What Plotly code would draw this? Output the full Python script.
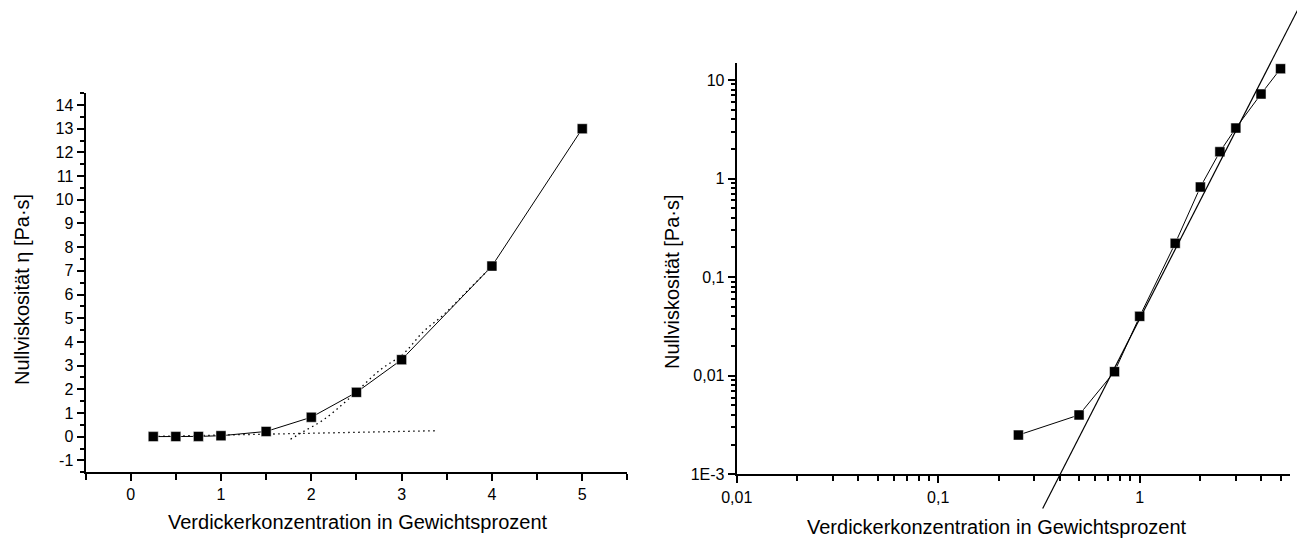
import math
import plotly.graph_objects as go

# Zero-shear viscosity vs. thickener concentration
conc = [0.25, 0.5, 0.75, 1.0, 1.5, 2.0, 2.5, 3.0, 4.0, 5.0]
visc = [0.0025, 0.004, 0.011, 0.04, 0.22, 0.82, 1.87, 3.25, 7.2, 13.0]

# Dotted guide lines on the linear plot
base_x = [0.25, 3.37]
base_y = [0.01, 0.25]
rise_x = [1.77, 1.91, 2.13, 2.41, 2.76, 3.02, 3.24, 3.46, 3.72, 4.0]
rise_y = [-0.11, 0.21, 0.70, 1.58, 2.81, 3.50, 4.43, 5.13, 6.12, 7.2]

# Power-law line on the log-log plot
fit_x = [0.33, 6.1]
fit_y = [0.00045, 52.0]

lin_xticks = [0, 1, 2, 3, 4, 5]
lin_yticks = list(range(-1, 15))
log_xticks = [0.01, 0.1, 1]
log_xtext = ["0,01", "0,1", "1"]
log_yticks = [0.001, 0.01, 0.1, 1, 10]
log_ytext = ["1E-3", "0,01", "0,1", "1", "10"]

W, H = 1297, 539
FONT = "Liberation Sans, Arial, Helvetica, sans-serif"


def px_x(p):
    return p / W


def px_y(p):
    return 1 - p / H


fig = go.Figure()

black_line = dict(color="black", width=1)
marker = dict(symbol="square", size=10, color="black", line=dict(color="white", width=0.5))
dotted = dict(color="black", width=1.3, dash="1.5px,3.5px")

# Left: linear axes
fig.add_trace(go.Scatter(x=base_x, y=base_y, mode="lines", line=dotted,
                         xaxis="x", yaxis="y", showlegend=False))
fig.add_trace(go.Scatter(x=rise_x, y=rise_y, mode="lines", line_shape="spline", line=dotted,
                         xaxis="x", yaxis="y", showlegend=False))
fig.add_trace(go.Scatter(x=conc, y=visc, mode="lines+markers",
                         line=black_line, marker=marker,
                         xaxis="x", yaxis="y", showlegend=False))

# Right: log-log axes
fig.add_trace(go.Scatter(x=conc, y=visc, mode="lines+markers",
                         line=black_line, marker=marker,
                         xaxis="x2", yaxis="y2", showlegend=False))

# Right plot geometry (pixels)
x2_l, x2_r = 736.7, 1290.0
y2_t, y2_b = 63.3, 474.3
x2_range = [-2.0, math.log10(5.57)]
y2_range = [-3.0, 1.169]

# Full-figure overlay axes sharing the log scale, so the fit line can run past the frame
dec_x = (x2_r - x2_l) / (x2_range[1] - x2_range[0])
dec_y = (y2_b - y2_t) / (y2_range[1] - y2_range[0])
x3_range = [x2_range[0] - x2_l / dec_x, x2_range[0] + (W - x2_l) / dec_x]
y3_range = [y2_range[0] - (H - y2_b) / dec_y, y2_range[0] + y2_b / dec_y]

fig.add_trace(go.Scatter(x=fit_x, y=fit_y, mode="lines",
                         line=dict(color="black", width=1.2),
                         xaxis="x3", yaxis="y3", showlegend=False))

tickfont = dict(family=FONT, size=16, color="black")
axis_common = dict(showline=True, linecolor="black", linewidth=2, mirror=False,
                   showgrid=False, zeroline=False, ticks="outside", ticklen=7,
                   tickwidth=1.5, tickcolor="black", tickfont=tickfont,
                   automargin=False)


def halves(lo, hi):
    out = []
    v = lo
    while v <= hi + 1e-9:
        out.append(v)
        v += 1.0
    return out


log_minor_x = [m * 10 ** e for e in range(-2, 1) for m in range(2, 10) if m * 10 ** e <= 5.57]
log_minor_y = [m * 10 ** e for e in range(-3, 2) for m in range(2, 10) if m * 10 ** e <= 14.7]

fig.update_layout(
    width=W, height=H, autosize=False,
    margin=dict(l=0, r=0, t=0, b=0, pad=0, autoexpand=False),
    paper_bgcolor="white", plot_bgcolor="rgba(0,0,0,0)",
    font=dict(family=FONT, color="black"),
    xaxis=dict(domain=[px_x(85.5), px_x(627.4)], range=[-0.5, 5.5], anchor="y",
               tickvals=lin_xticks, ticktext=[str(v) for v in lin_xticks],
               minor=dict(tickvals=halves(-0.5, 5.5), ticklen=6, tickwidth=1.5,
                          tickcolor="black", ticks="outside"),
               **axis_common),
    yaxis=dict(domain=[px_y(472.2), px_y(93.2)], range=[-1.5, 14.5], anchor="x",
               tickvals=lin_yticks, ticktext=[str(v) for v in lin_yticks],
               minor=dict(tickvals=halves(-1.5, 14.5), ticklen=4, tickwidth=1.5,
                          tickcolor="black", ticks="outside"),
               **axis_common),
    xaxis2=dict(type="log", domain=[px_x(x2_l), px_x(x2_r)], range=x2_range, anchor="y2",
                tickvals=log_xticks, ticktext=log_xtext,
                minor=dict(tickvals=log_minor_x, ticklen=5, tickwidth=1.5,
                           tickcolor="black", ticks="outside"),
                **axis_common),
    yaxis2=dict(type="log", domain=[px_y(y2_b), px_y(y2_t)], range=y2_range, anchor="x2",
                tickvals=log_yticks, ticktext=log_ytext,
                minor=dict(tickvals=log_minor_y, ticklen=4, tickwidth=1.5,
                           tickcolor="black", ticks="outside"),
                **axis_common),
    xaxis3=dict(type="log", domain=[0, 1], range=x3_range, anchor="y3", visible=False,
                automargin=False),
    yaxis3=dict(type="log", domain=[0, 1], range=y3_range, anchor="x3", visible=False,
                automargin=False),
)

titlefont = dict(family=FONT, size=20, color="black")
annotations = [
    dict(text="Verdickerkonzentration in Gewichtsprozent", x=px_x(358), y=px_y(522)),
    dict(text="Verdickerkonzentration in Gewichtsprozent", x=px_x(997), y=px_y(527)),
    dict(text="Nullviskosität η [Pa·s]", x=px_x(22), y=px_y(290), textangle=-90),
    dict(text="Nullviskosität [Pa·s]", x=px_x(672), y=px_y(282), textangle=-90),
]
for a in annotations:
    fig.add_annotation(xref="paper", yref="paper", showarrow=False,
                       xanchor="center", yanchor="middle", font=titlefont, **a)

fig.write_html("out.html")
